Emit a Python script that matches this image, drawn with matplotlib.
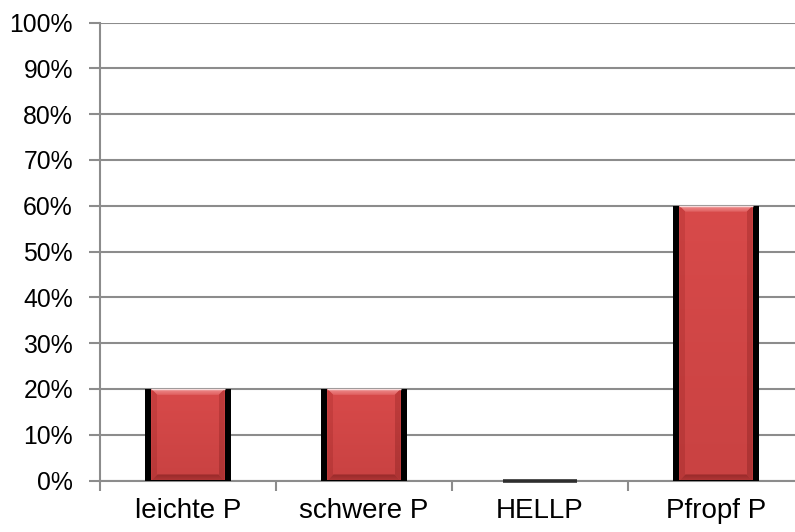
import numpy as np
import matplotlib
matplotlib.use("Agg")
import matplotlib.pyplot as plt
from matplotlib.patches import Polygon, FancyBboxPatch
from matplotlib.colors import to_rgb

categories = ["leichte P", "schwere P", "HELLP", "Pfropf P"]
values = [20, 20, 0, 60]
y_ticks = list(range(0, 101, 10))
y_labels = [f"{t}%" for t in y_ticks]

plt.rcParams["font.family"] = ["Liberation Sans", "DejaVu Sans"]

W, H = 795, 532
fig = plt.figure(figsize=(W / 100, H / 100), dpi=100)
ax = fig.add_axes([100 / W, 51.5 / H, 704 / W, 458 / H])

grid_c = "#8c8c8c"
x = np.arange(len(categories))
face_w = 0.415
shadow_w = 0.485

ax.set_xlim(-0.5, len(categories) - 0.5)
ax.set_ylim(0, 100)


def gradient_fill(poly_xy, c_top, c_bot, zorder):
    poly = Polygon(poly_xy, closed=True, facecolor="none", edgecolor="none")
    ax.add_patch(poly)
    ys = [p[1] for p in poly_xy]
    xs = [p[0] for p in poly_xy]
    t = np.linspace(0, 1, 64)[:, None]
    top = np.array(to_rgb(c_top))
    bot = np.array(to_rgb(c_bot))
    img = (top * (1 - t) + bot * t)[:, None, :]
    im = ax.imshow(img, extent=[min(xs), max(xs), min(ys), max(ys)],
                   aspect="auto", origin="upper", zorder=zorder,
                   interpolation="bilinear")
    im.set_clip_path(poly)


# dark drop shadow on both sides of each bar
shadows = ax.bar(x, values, width=shadow_w, color="black", zorder=2)

dx = 6 / 176
dy = 6 / 4.58
for xi, v in zip(x, values):
    x0, x1 = xi - face_w / 2, xi + face_w / 2
    if v <= 0:
        ax.plot([x0, x1], [v, v], color="#2e2e2e", lw=2.6, zorder=4,
                solid_capstyle="butt", clip_on=False)
        continue
    # front face
    gradient_fill([(x0, 0), (x1, 0), (x1, v), (x0, v)],
                  "#d84a4a", "#c94242", 3)
    # left / right bevels
    gradient_fill([(x0, 0), (x0, v), (x0 + dx, v - dy), (x0 + dx, dy)],
                  "#c94040", "#b83838", 4)
    gradient_fill([(x1, 0), (x1, v), (x1 - dx, v - dy), (x1 - dx, dy)],
                  "#c03c3c", "#ad3434", 4)
    # top bevel
    gradient_fill([(x0, v), (x1, v), (x1 - dx, v - dy), (x0 + dx, v - dy)],
                  "#f09090", "#df5e5e", 5)
    # bottom bevel
    gradient_fill([(x0, 0), (x1, 0), (x1 - dx, dy), (x0 + dx, dy)],
                  "#962a2a", "#b03535", 5)
    ax.plot([x0, x1], [v, v], color="#f6dada", lw=1.0, zorder=6,
            solid_capstyle="butt")

ax.set_xlim(-0.5, len(categories) - 0.5)
ax.set_ylim(0, 100)

# axes styling
for s in ("top", "right", "bottom"):
    ax.spines[s].set_visible(False)
ax.spines["left"].set_color(grid_c)
ax.spines["left"].set_linewidth(1.5)
ax.spines["left"].set_bounds(0, 100)

ax.set_yticks(y_ticks)
ax.set_yticklabels(y_labels, fontsize=17.8)
ax.yaxis.grid(True, color=grid_c, linewidth=1.5)
ax.set_axisbelow(True)
ax.tick_params(axis="y", length=8, width=1.5, color=grid_c, pad=11.5,
               labelcolor="black")

ax.set_xticks(x)
ax.set_xticklabels(categories, fontsize=20)
ax.set_xticks(np.arange(-0.5, len(categories), 1.0), minor=True)
ax.tick_params(axis="x", which="major", length=0, pad=12.5)
ax.tick_params(axis="x", which="minor", length=7, width=1.5, color=grid_c)

ax.axhline(0, color=grid_c, linewidth=1.5, zorder=1, clip_on=False)

fig.savefig("out.png", dpi=100)
